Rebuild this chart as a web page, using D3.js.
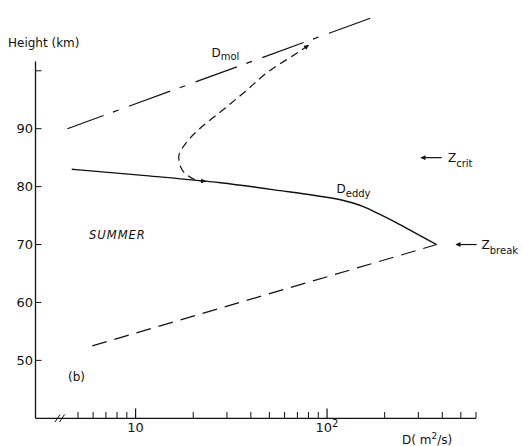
<!DOCTYPE html>
<html><head><meta charset="utf-8">
<script src="https://cdn.jsdelivr.net/npm/d3@7"></script>
<style>
html,body{margin:0;padding:0;background:#fff;}
svg{display:block;}
text{font-family:"DejaVu Sans",sans-serif;fill:#111;}
</style></head>
<body>
<script>
// ---- data ----
const yTicks = [50, 60, 70, 80, 90, 100];
const yTickLabels = ["50", "60", "70", "80", "90", ""];
const xMajor = [10, 100];
const xMinor = [5, 6, 7, 8, 9, 20, 30, 40, 50, 60, 70, 80, 90, 200, 300, 400, 500, 600];

const molD = [4.4, 186];
const molH = [90, 109.6];

const transD = [80.1, 67.0, 50.6, 37.0, 28.0, 21.6, 18.4, 16.8, 17.2, 18.6, 21.0, 23.2];
const transH = [104.4, 102.7, 100.1, 96.3, 93.0, 90.0, 87.6, 85.1, 83.4, 82.0, 81.1, 80.9];

const eddyD = [4.64, 11.3, 27.8, 57.1, 84.8, 122, 154.6, 189, 231, 282, 373.5];
const eddyH = [83.0, 81.9, 80.66, 79.3, 78.5, 77.6, 76.55, 75.2, 73.75, 72.2, 70.0];

const lowD = [5.94, 373.5];
const lowH = [52.5, 70.0];

const markerH = [85, 70];
const markerNames = ["crit", "break"];

// ---- layout ----
const W = 523, H = 446;
const svg = d3.select("body").append("svg").attr("width", W).attr("height", H);

const x = d3.scaleLog().domain([3, 600]).range([35.5, 476]);
const y = d3.scaleLinear().domain([40, 101.6]).range([418.3, 61.5]);
const ink = "#111";

svg.append("defs").append("marker")
  .attr("id", "ah").attr("viewBox", "0 0 10 10").attr("refX", 9).attr("refY", 5)
  .attr("markerWidth", 7).attr("markerHeight", 5).attr("markerUnits", "userSpaceOnUse")
  .attr("orient", "auto-start-reverse")
  .append("path").attr("d", "M0,0 L10,5 L0,10 z").attr("fill", ink);

// axes
svg.append("line").attr("x1", 35.5).attr("x2", 35.5).attr("y1", y.range()[1]).attr("y2", y.range()[0])
  .attr("stroke", ink).attr("stroke-width", 1.3);
svg.append("line").attr("x1", 35.5).attr("x2", 476).attr("y1", 418.3).attr("y2", 418.3)
  .attr("stroke", ink).attr("stroke-width", 1.3);

svg.selectAll(".yt").data(yTicks).enter().append("line")
  .attr("x1", 35.5).attr("x2", 41.5).attr("y1", d => y(d)).attr("y2", d => y(d))
  .attr("stroke", ink).attr("stroke-width", 1);
svg.selectAll(".yl").data(yTicks).enter().append("text")
  .attr("x", 33).attr("y", d => y(d) + 4.8).attr("text-anchor", "end")
  .attr("font-size", 13).text((d, i) => yTickLabels[i]);

svg.selectAll(".xmi").data(xMinor).enter().append("line")
  .attr("x1", d => x(d)).attr("x2", d => x(d)).attr("y1", 418.3).attr("y2", 412)
  .attr("stroke", ink).attr("stroke-width", 1);
svg.selectAll(".xma").data(xMajor).enter().append("line")
  .attr("x1", d => x(d)).attr("x2", d => x(d)).attr("y1", 418.3).attr("y2", 408.5)
  .attr("stroke", ink).attr("stroke-width", 1.2);

const xl = svg.selectAll(".xl").data(xMajor).enter().append("text")
  .attr("x", d => x(d)).attr("y", 432).attr("text-anchor", "middle").attr("font-size", 13);
xl.append("tspan").text("10");
xl.filter(d => d === 100).append("tspan").attr("font-size", 10).attr("dy", -5).text("2");

// axis break
[[55, 60], [59.5, 64.5]].forEach(p => {
  svg.append("line").attr("x1", p[0]).attr("y1", 422).attr("x2", p[1]).attr("y2", 414.5)
    .attr("stroke", ink).attr("stroke-width", 1);
});

// axis titles
svg.append("text").attr("x", 8).attr("y", 46.5).attr("font-size", 12).text("Height (km)");
const xt = svg.append("text").attr("x", 402).attr("y", 444).attr("font-size", 12);
xt.append("tspan").text("D( m");
xt.append("tspan").attr("font-size", 9).attr("dy", -5).text("2");
xt.append("tspan").attr("dy", 5).text("/s)");

// curves
const line = d3.line().x(d => x(d[0])).y(d => y(d[1]));
const zip = (a, b) => a.map((v, i) => [v, b[i]]);

svg.append("path").attr("d", line(zip(molD, molH))).attr("fill", "none")
  .attr("stroke", ink).attr("stroke-width", 1.2)
  .attr("stroke-dasharray", "44,10,6,11").attr("stroke-dashoffset", 5.5);

svg.append("path").attr("d", line.curve(d3.curveMonotoneY)(zip(transD, transH))).attr("fill", "none")
  .attr("stroke", ink).attr("stroke-width", 1.2).attr("stroke-dasharray", "8,5")
  .attr("marker-start", "url(#ah)").attr("marker-end", "url(#ah)");

svg.append("path").attr("d", line.curve(d3.curveMonotoneX)(zip(eddyD, eddyH))).attr("fill", "none")
  .attr("stroke", ink).attr("stroke-width", 1.4);

svg.append("path").attr("d", line.curve(d3.curveLinear)(zip(lowD, lowH))).attr("fill", "none")
  .attr("stroke", ink).attr("stroke-width", 1.2).attr("stroke-dasharray", "15,8");

// curve labels
const lm = svg.append("text").attr("x", 211.5).attr("y", 56.7).attr("font-size", 12);
lm.append("tspan").text("D");
lm.append("tspan").attr("font-size", 10).attr("dy", 3.3).text("mol");
const le = svg.append("text").attr("x", 336.5).attr("y", 193.3).attr("font-size", 12);
le.append("tspan").text("D");
le.append("tspan").attr("font-size", 10).attr("dy", 3.5).text("eddy");

svg.append("text").attr("x", 89).attr("y", 239).attr("font-size", 11.5)
  .attr("font-style", "italic").attr("letter-spacing", 1).text("SUMMER");
svg.append("text").attr("x", 68).attr("y", 380.5).attr("font-size", 12).text("(b)");

// height markers
const mx = [[420, 441.7, 448], [455, 476.7, 481.5]];
markerH.forEach((h, i) => {
  svg.append("line").attr("x1", mx[i][1]).attr("x2", mx[i][0] + 1).attr("y1", y(h)).attr("y2", y(h))
    .attr("stroke", ink).attr("stroke-width", 1.2).attr("marker-end", "url(#ah)");
  const t = svg.append("text").attr("x", mx[i][2]).attr("y", y(h) + 4).attr("font-size", 12);
  t.append("tspan").text("Z");
  t.append("tspan").attr("font-size", 10).attr("dy", 5.5).text(markerNames[i]);
});
</script>
</body></html>
